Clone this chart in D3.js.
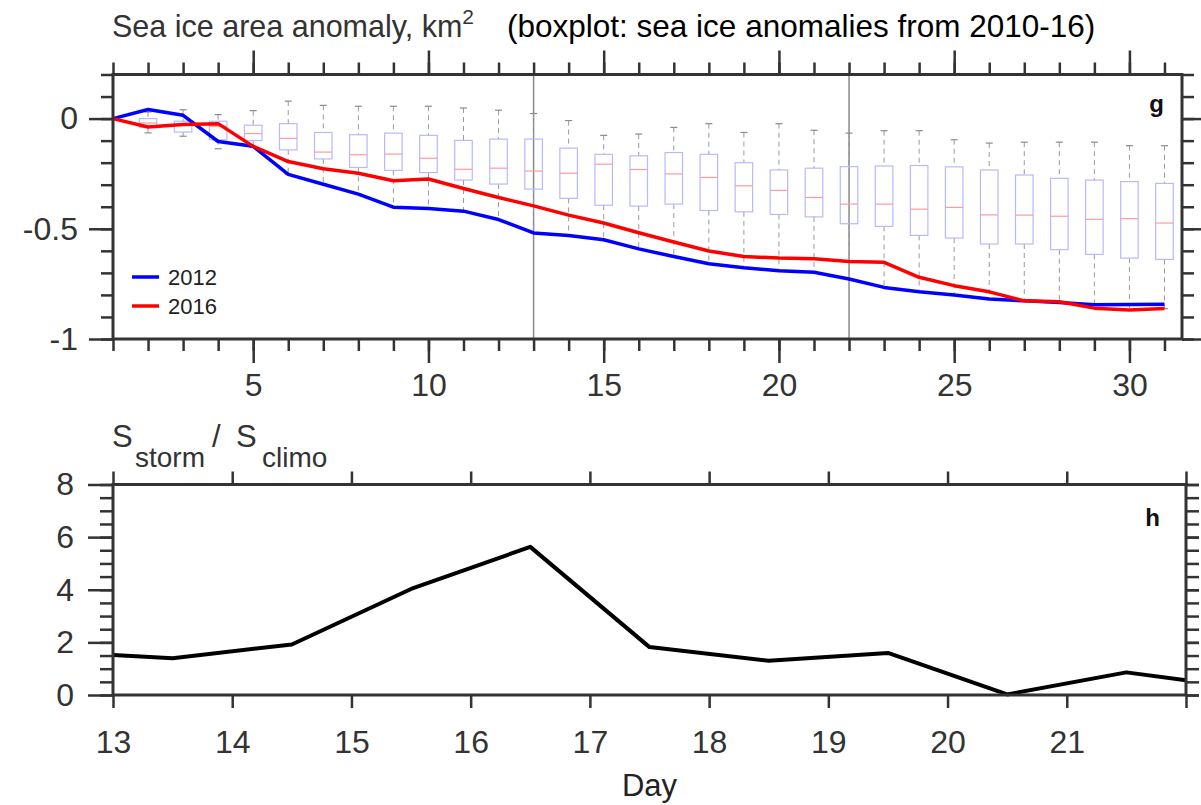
<!DOCTYPE html>
<html>
<head>
<meta charset="utf-8">
<script src="https://cdn.jsdelivr.net/npm/d3@7/dist/d3.min.js"></script>
<style>
  body { margin: 0; background: #fff; }
  svg { font-family: "Liberation Sans", Arial, Helvetica, sans-serif; }
</style>
</head>
<body>
<svg id="chart" width="1201" height="805"></svg>
<script>
// panel g: sea ice area anomaly by day
var days = [1,2,3,4,5,6,7,8,9,10,11,12,13,14,15,16,17,18,19,20,21,22,23,24,25,26,27,28,29,30,31];
var anom2012 = [0, 0.041, 0.015, -0.104, -0.126, -0.253, -0.298, -0.343, -0.402, -0.408, -0.42, -0.458, -0.519, -0.53, -0.55,
  -0.591, -0.626, -0.659, -0.677, -0.69, -0.697, -0.728, -0.766, -0.786, -0.8, -0.819, -0.827, -0.834, -0.845, -0.843, -0.842];
var anom2016 = [0, -0.038, -0.027, -0.023, -0.126, -0.195, -0.228, -0.248, -0.282, -0.274, -0.317, -0.358, -0.396, -0.438, -0.474,
  -0.518, -0.56, -0.601, -0.626, -0.633, -0.636, -0.648, -0.652, -0.72, -0.758, -0.786, -0.827, -0.831, -0.86, -0.868, -0.862];

// boxplot (2010-16), days 2..31
var boxDays = days.slice(1);
var whiskHi = [0.03, 0.04, 0.018, 0.036, 0.079, 0.06, 0.056, 0.056, 0.056, 0.048, 0.038, 0.023, -0.009, -0.076, -0.07,
  -0.04, -0.023, -0.063, -0.023, -0.053, -0.066, -0.055, -0.055, -0.096, -0.111, -0.107, -0.107, -0.107, -0.123, -0.123];
var boxQ3 = [0.0, -0.012, -0.012, -0.03, -0.023, -0.063, -0.073, -0.066, -0.076, -0.099, -0.093, -0.093, -0.134, -0.162, -0.169,
  -0.154, -0.162, -0.2, -0.233, -0.225, -0.218, -0.215, -0.213, -0.219, -0.233, -0.256, -0.271, -0.279, -0.286, -0.294];
var boxMed = [-0.02, -0.025, -0.035, -0.068, -0.09, -0.152, -0.164, -0.161, -0.18, -0.23, -0.225, -0.238, -0.248, -0.207, -0.231,
  -0.251, -0.267, -0.305, -0.326, -0.358, -0.388, -0.388, -0.411, -0.403, -0.437, -0.438, -0.443, -0.457, -0.454, -0.474];
var boxQ1 = [-0.04, -0.061, -0.096, -0.1, -0.142, -0.183, -0.222, -0.235, -0.245, -0.279, -0.297, -0.32, -0.362, -0.393, -0.397,
  -0.388, -0.417, -0.423, -0.435, -0.446, -0.477, -0.489, -0.53, -0.542, -0.569, -0.569, -0.595, -0.616, -0.633, -0.639];
var whiskLo = [-0.065, -0.08, -0.137, -0.13, -0.253, -0.298, -0.343, -0.402, -0.408, -0.42, -0.458, -0.519, -0.53, -0.55, -0.591,
  -0.626, -0.659, -0.677, -0.69, -0.697, -0.728, -0.766, -0.786, -0.8, -0.819, -0.827, -0.834, -0.86, -0.868, -0.862];
var markDays = [13, 22];
var gXMajor = [5, 10, 15, 20, 25, 30];
var gYMajor = [0, -0.5, -1];
var gYLabels = ["0", "-0.5", "-1"];

// panel h: storm / climatology ratio
var hDays = [13, 13.5, 14.5, 15.5, 16.5, 17.5, 18.5, 19.5, 20.5, 21.5, 22];
var hRatio = [1.52, 1.4, 1.92, 4.03, 5.63, 1.82, 1.3, 1.6, 0.02, 0.86, 0.56];
var hXTicks = [13, 14, 15, 16, 17, 18, 19, 20, 21, 22];
var hXLabels = [13, 14, 15, 16, 17, 18, 19, 20, 21];
var hYMajor = [0, 2, 4, 6, 8];

var axisColor = "#333";
var labelSize = 32;
var svg = d3.select("#chart");

function tidy(g) {
  g.select(".domain").remove();
  g.selectAll(".tick line").attr("stroke", axisColor).attr("stroke-width", 2.5);
  g.selectAll(".tick text").attr("fill", axisColor).style("font-size", labelSize + "px");
}

// ---------- panel g ----------
var gx = d3.scaleLinear().domain([1, 31.5]).range([113, 1182]);
var gy = d3.scaleLinear().domain([-1, 0.2]).range([339, 74.5]);
var panelG = svg.append("g");

panelG.selectAll(".mark").data(markDays).enter().append("line")
  .attr("x1", d => gx(d)).attr("x2", d => gx(d))
  .attr("y1", gy.range()[1]).attr("y2", gy.range()[0])
  .attr("stroke", "#8a8a8a").attr("stroke-width", 1.5);

var bw = 0.25;
var boxes = panelG.selectAll(".box").data(boxDays).enter().append("g");
boxes.append("line")
  .attr("x1", d => gx(d)).attr("x2", d => gx(d))
  .attr("y1", (d, i) => gy(whiskHi[i])).attr("y2", (d, i) => gy(boxQ3[i]))
  .attr("stroke", "#9a9a9a").attr("stroke-width", 1).attr("stroke-dasharray", "5,4");
boxes.append("line")
  .attr("x1", d => gx(d)).attr("x2", d => gx(d))
  .attr("y1", (d, i) => gy(boxQ1[i])).attr("y2", (d, i) => gy(whiskLo[i]))
  .attr("stroke", "#9a9a9a").attr("stroke-width", 1).attr("stroke-dasharray", "5,4");
boxes.append("line")
  .attr("x1", d => gx(d - 0.1)).attr("x2", d => gx(d + 0.1))
  .attr("y1", (d, i) => gy(whiskHi[i])).attr("y2", (d, i) => gy(whiskHi[i]))
  .attr("stroke", "#8a8a8a").attr("stroke-width", 1.2);
boxes.append("line")
  .attr("x1", d => gx(d - 0.1)).attr("x2", d => gx(d + 0.1))
  .attr("y1", (d, i) => gy(whiskLo[i])).attr("y2", (d, i) => gy(whiskLo[i]))
  .attr("stroke", "#8a8a8a").attr("stroke-width", 1.2);
boxes.append("rect")
  .attr("x", d => gx(d - bw)).attr("width", gx(1 + 2 * bw) - gx(1))
  .attr("y", (d, i) => gy(boxQ3[i])).attr("height", (d, i) => gy(boxQ1[i]) - gy(boxQ3[i]))
  .attr("fill", "none").attr("stroke", "#b8b8ff").attr("stroke-width", 1.2);
boxes.append("line")
  .attr("x1", d => gx(d - bw)).attr("x2", d => gx(d + bw))
  .attr("y1", (d, i) => gy(boxMed[i])).attr("y2", (d, i) => gy(boxMed[i]))
  .attr("stroke", "#ff9a9a").attr("stroke-width", 1.2);

var gLine = d3.line().x((d, i) => gx(days[i])).y(d => gy(d));
panelG.append("path").datum(anom2012).attr("d", gLine)
  .attr("fill", "none").attr("stroke", "#0000ff").attr("stroke-width", 3.5).attr("stroke-linejoin", "round");
panelG.append("path").datum(anom2016).attr("d", gLine)
  .attr("fill", "none").attr("stroke", "#ff0000").attr("stroke-width", 3.5).attr("stroke-linejoin", "round");

// legend
var legend = [{name: "2012", color: "#0000ff"}, {name: "2016", color: "#ff0000"}];
var lg = panelG.selectAll(".leg").data(legend).enter().append("g")
  .attr("transform", (d, i) => "translate(132," + (277 + i * 29) + ")");
lg.append("line").attr("x1", 0).attr("x2", 27).attr("stroke", d => d.color).attr("stroke-width", 3.5);
lg.append("text").attr("x", 36).attr("dy", "0.36em").style("font-size", "22px").attr("fill", "#222").text(d => d.name);

// axes g
var gMinorX = days;
panelG.append("g").attr("transform", "translate(0," + gy.range()[0] + ")")
  .call(d3.axisBottom(gx).tickValues(gMinorX).tickSize(12).tickFormat(""))
  .call(tidy);
panelG.append("g").attr("transform", "translate(0," + gy.range()[0] + ")")
  .call(d3.axisBottom(gx).tickValues(gXMajor).tickSize(24).tickFormat(d3.format("d")))
  .call(tidy)
  .call(g => g.selectAll(".tick text").attr("y", 57).attr("dy", 0));
panelG.append("g").attr("transform", "translate(0," + gy.range()[1] + ")")
  .call(d3.axisTop(gx).tickValues(gMinorX).tickSize(12).tickFormat(""))
  .call(tidy);
panelG.append("g").attr("transform", "translate(0," + gy.range()[1] + ")")
  .call(d3.axisTop(gx).tickValues(gXMajor).tickSize(24).tickFormat(""))
  .call(tidy);

var gMinorY = d3.range(-10, 3).map(v => v / 10);
[["axisLeft", gx.range()[0]], ["axisRight", gx.range()[1]]].forEach(function (a) {
  panelG.append("g").attr("transform", "translate(" + a[1] + ",0)")
    .call(d3[a[0]](gy).tickValues(gMinorY).tickSize(12).tickFormat(""))
    .call(tidy);
  panelG.append("g").attr("transform", "translate(" + a[1] + ",0)")
    .call(d3[a[0]](gy).tickValues(gYMajor).tickSize(24)
      .tickFormat((d, i) => a[0] === "axisLeft" ? gYLabels[i] : ""))
    .call(tidy)
    .call(g => g.selectAll(".tick text").attr("x", -35));
});

panelG.append("rect")
  .attr("x", gx.range()[0]).attr("y", gy.range()[1])
  .attr("width", gx.range()[1] - gx.range()[0]).attr("height", gy.range()[0] - gy.range()[1])
  .attr("fill", "none").attr("stroke", axisColor).attr("stroke-width", 3);

panelG.append("text").attr("x", 1164).attr("y", 112).attr("text-anchor", "end")
  .style("font-size", "24px").style("font-weight", "bold").attr("fill", "#111").text("g");

var t1 = svg.append("text").attr("x", 112).attr("y", 37).attr("fill", "#333").style("font-size", "30.5px");
t1.append("tspan").text("Sea ice area anomaly, km");
t1.append("tspan").attr("dy", -13).style("font-size", "21px").text("2");
svg.append("text").attr("x", 507).attr("y", 37).attr("fill", "#000").style("font-size", "31.5px")
  .text("(boxplot: sea ice anomalies from 2010-16)");

// ---------- panel h ----------
var hx = d3.scaleLinear().domain([13, 22]).range([113, 1186]);
var hy = d3.scaleLinear().domain([0, 8]).range([695, 484.5]);
var panelH = svg.append("g");

panelH.append("path").datum(hRatio)
  .attr("d", d3.line().x((d, i) => hx(hDays[i])).y(d => hy(d)))
  .attr("fill", "none").attr("stroke", "#000").attr("stroke-width", 4).attr("stroke-linejoin", "round");

panelH.append("g").attr("transform", "translate(0," + hy.range()[0] + ")")
  .call(d3.axisBottom(hx).tickValues(hXTicks).tickSize(13)
    .tickFormat(d => hXLabels.indexOf(d) >= 0 ? d : ""))
  .call(tidy)
  .call(g => g.selectAll(".tick text").attr("y", 58).attr("dy", 0));
panelH.append("g").attr("transform", "translate(0," + hy.range()[1] + ")")
  .call(d3.axisTop(hx).tickValues(hXTicks).tickSize(13).tickFormat(""))
  .call(tidy);

var hMinorY = d3.range(0, 17).map(v => v / 2);
[["axisLeft", hx.range()[0]], ["axisRight", hx.range()[1]]].forEach(function (a) {
  panelH.append("g").attr("transform", "translate(" + a[1] + ",0)")
    .call(d3[a[0]](hy).tickValues(hMinorY).tickSize(13).tickFormat(""))
    .call(tidy);
  panelH.append("g").attr("transform", "translate(" + a[1] + ",0)")
    .call(d3[a[0]](hy).tickValues(hYMajor).tickSize(a[0] === "axisLeft" ? 25 : 13)
      .tickFormat(d => a[0] === "axisLeft" ? d : ""))
    .call(tidy)
    .call(g => g.selectAll(".tick text").attr("x", -39));
});

panelH.append("rect")
  .attr("x", hx.range()[0]).attr("y", hy.range()[1])
  .attr("width", hx.range()[1] - hx.range()[0]).attr("height", hy.range()[0] - hy.range()[1])
  .attr("fill", "none").attr("stroke", axisColor).attr("stroke-width", 3);

panelH.append("text").attr("x", 1160).attr("y", 526).attr("text-anchor", "end")
  .style("font-size", "24px").style("font-weight", "bold").attr("fill", "#111").text("h");

var t2 = svg.append("text").attr("y", 447).attr("fill", "#333").style("font-size", "31px");
t2.append("tspan").attr("x", 112).text("S");
t2.append("tspan").attr("x", 135).attr("y", 467).style("font-size", "28px").text("storm");
t2.append("tspan").attr("x", 212).attr("y", 447).text("/");
t2.append("tspan").attr("x", 236).attr("y", 447).text("S");
t2.append("tspan").attr("x", 262).attr("y", 467).style("font-size", "28px").text("climo");

svg.append("text").attr("x", hx(17.5)).attr("y", 796).attr("text-anchor", "middle")
  .attr("fill", "#222").style("font-size", "31px").text("Day");
</script>
</body>
</html>
